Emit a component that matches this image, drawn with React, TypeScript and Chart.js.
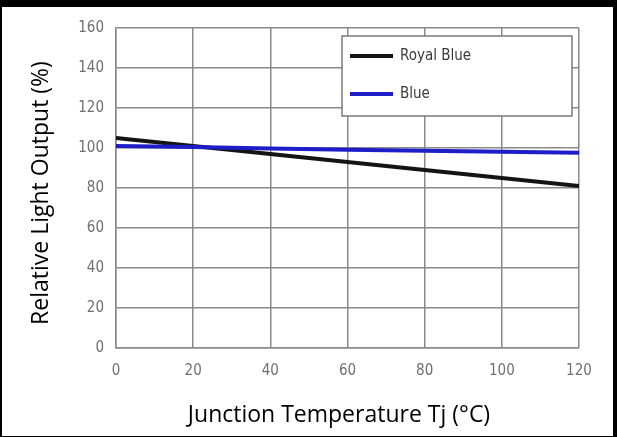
import React, { useEffect, useRef } from "react";
import { Chart, registerables } from "chart.js";

Chart.register(...registerables);

const temperatures = [0, 20, 40, 60, 80, 100, 120];
const royalBlueValues = [105, 101, 97, 93, 89, 85, 81];
const blueValues = [101, 100.5, 99.8, 99.1, 98.6, 98.1, 97.6];
const seriesNames = ["Royal Blue", "Blue"];
const seriesColors = ["#141414", "#1e1ec8"];
const xTitle = "Junction Temperature Tj (°C)";
const yTitle = "Relative Light Output (%)";

const tickFont = "'Liberation Sans Narrow', 'Arial Narrow', 'DejaVu Sans Condensed', sans-serif";
const titleFont = "'Open Sans', Lato, sans-serif";

const overlayPlugin = {
  id: "overlay",
  afterDraw(chart: any) {
    const ctx = chart.ctx;
    const area = chart.chartArea;
    ctx.save();
    // axis titles
    ctx.fillStyle = "#000";
    ctx.font = `23px ${titleFont}`;
    ctx.textAlign = "center";
    ctx.textBaseline = "alphabetic";
    ctx.fillText(xTitle, 337, 415);
    ctx.translate(46, 186);
    ctx.rotate(-Math.PI / 2);
    ctx.fillText(yTitle, 0, 0);
    ctx.restore();

    // legend box
    ctx.save();
    const bx = area.left + 226;
    const by = area.top + 8;
    const bw = 230;
    const bh = 80;
    ctx.fillStyle = "#fff";
    ctx.fillRect(bx, by, bw, bh);
    ctx.strokeStyle = "#7a7a7a";
    ctx.lineWidth = 1.5;
    ctx.strokeRect(bx, by, bw, bh);
    ctx.font = `15px ${tickFont}`;
    ctx.textAlign = "left";
    ctx.textBaseline = "middle";
    seriesNames.forEach((name, i) => {
      const y = by + 20 + i * 38;
      ctx.strokeStyle = seriesColors[i];
      ctx.lineWidth = 4;
      ctx.beginPath();
      ctx.moveTo(bx + 8, y);
      ctx.lineTo(bx + 51, y);
      ctx.stroke();
      ctx.fillStyle = "#3a3a3a";
      ctx.fillText(name, bx + 58, y);
    });
    ctx.restore();
  },
};

export default function App() {
  const ref = useRef<HTMLCanvasElement>(null);
  useEffect(() => {
    if (!ref.current) return;
    const chart = new Chart(ref.current, {
      type: "line",
      data: {
        datasets: [
          {
            label: seriesNames[0],
            data: temperatures.map((t, i) => ({ x: t, y: royalBlueValues[i] })),
            borderColor: seriesColors[0],
            borderWidth: 4,
            pointRadius: 0,
            tension: 0,
            order: 1,
          },
          {
            label: seriesNames[1],
            data: temperatures.map((t, i) => ({ x: t, y: blueValues[i] })),
            borderColor: seriesColors[1],
            borderWidth: 4,
            pointRadius: 0,
            tension: 0,
            order: 0,
          },
        ],
      },
      options: {
        responsive: false,
        animation: false,
        layout: { padding: { left: 0, right: 34, top: 18, bottom: 0 } },
        plugins: { legend: { display: false }, tooltip: { enabled: false } },
        scales: {
          x: {
            type: "linear",
            min: 0,
            max: 120,
            afterFit: (s: any) => {
              s.height = 88;
            },
            ticks: {
              stepSize: 20,
              padding: 14,
              color: "#707070",
              font: { family: tickFont, size: 15 },
            },
            grid: { color: "#8a8a8a", lineWidth: 1.5, drawTicks: false },
            border: { color: "#8a8a8a", width: 1.5 },
          },
          y: {
            type: "linear",
            min: 0,
            max: 160,
            afterFit: (s: any) => {
              s.width = 114;
            },
            ticks: {
              stepSize: 20,
              padding: 12,
              color: "#707070",
              font: { family: tickFont, size: 15 },
            },
            grid: { color: "#8a8a8a", lineWidth: 1.5, drawTicks: false },
            border: { color: "#8a8a8a", width: 1.5 },
          },
        },
      },
      plugins: [overlayPlugin],
    } as any);
    return () => chart.destroy();
  }, []);
  return (
    <div
      style={{
        position: "absolute",
        left: 0,
        top: 0,
        width: 617,
        height: 437,
        boxSizing: "border-box",
        borderStyle: "solid",
        borderColor: "#000",
        borderWidth: "7px 4px 1px 2px",
        background: "#fff",
      }}
    >
      <canvas ref={ref} width={611} height={429} style={{ display: "block" }} />
    </div>
  );
}
